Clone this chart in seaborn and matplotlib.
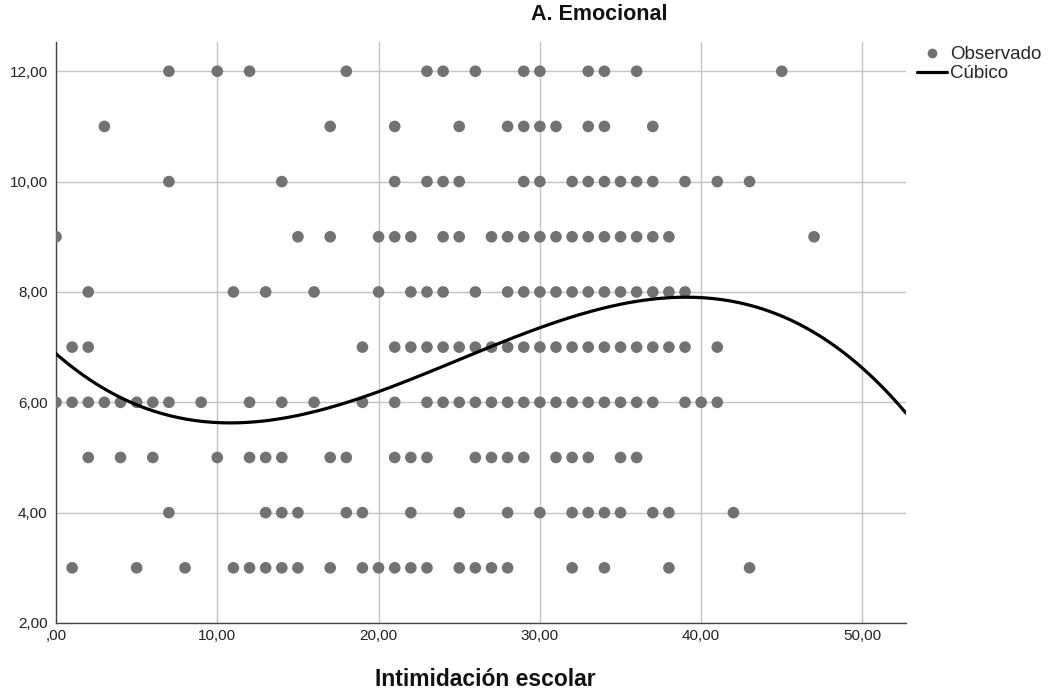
import numpy as np
import pandas as pd
import matplotlib
matplotlib.use("Agg")
import matplotlib.pyplot as plt
import seaborn as sns
from matplotlib.ticker import FuncFormatter
from matplotlib.lines import Line2D

# Observed points: x values (Intimidación escolar) per y level (A. Emocional)
x_at_12 = [7, 10, 12, 18, 23, 24, 26, 29, 30, 33, 34, 36, 45]
x_at_11 = [3, 17, 21, 25, 28, 29, 30, 31, 33, 34, 37]
x_at_10 = [7, 14, 21, 23, 24, 25, 29, 30, 32, 33, 34, 35, 36, 37, 39, 41, 43]
x_at_9 = [0, 15, 17, 20, 21, 22, 24, 25, 27, 28, 29, 30, 31, 32, 33, 34, 35, 36, 37, 38, 47]
x_at_8 = [2, 11, 13, 16, 20, 22, 23, 24, 26, 28, 29, 30, 31, 32, 33, 34, 35, 36, 37, 38, 39]
x_at_7 = [1, 2, 19, 21, 22, 23, 24, 25, 26, 27, 28, 29, 30, 31, 32, 33, 34, 35, 36, 37, 38, 39, 41]
x_at_6 = [0, 1, 2, 3, 4, 5, 6, 7, 9, 12, 14, 16, 19, 21, 23, 24, 25, 26, 27, 28, 29, 30,
          31, 32, 33, 34, 35, 36, 37, 39, 40, 41]
x_at_5 = [2, 4, 6, 10, 12, 13, 14, 17, 18, 21, 22, 23, 26, 27, 28, 29, 31, 32, 33, 35, 36]
x_at_4 = [7, 13, 14, 15, 18, 19, 22, 25, 28, 30, 32, 33, 34, 35, 37, 38, 42]
x_at_3 = [1, 5, 8, 11, 12, 13, 14, 15, 17, 19, 20, 21, 22, 23, 25, 26, 27, 28, 32, 34, 38, 43]

levels = {12: x_at_12, 11: x_at_11, 10: x_at_10, 9: x_at_9, 8: x_at_8,
          7: x_at_7, 6: x_at_6, 5: x_at_5, 4: x_at_4, 3: x_at_3}

# Cubic fit curve: points
curve_x = [0.0, 10.8, 20.0, 30.0, 39.0, 52.7]
curve_y = [6.88, 5.62, 6.22, 7.31, 7.93, 5.80]

x_ticks = [0, 10, 20, 30, 40, 50]
y_ticks = [2, 4, 6, 8, 10, 12]

rows = []
for yv, xs in levels.items():
    for xv in xs:
        rows.append((xv, yv))
df = pd.DataFrame(rows, columns=["x", "y"])

coef = np.polyfit(curve_x, curve_y, 3)
xs_line = np.linspace(0, 52.7, 300)
curve_df = pd.DataFrame({"x": xs_line, "y": np.polyval(coef, xs_line)})

sns.set_style("white")
plt.rcParams["font.family"] = ["Liberation Sans", "DejaVu Sans"]

fig = plt.figure(figsize=(10.58, 6.91), dpi=100)
ax = fig.add_axes([56 / 1058, 1 - 623 / 691, (906 - 56) / 1058, (623 - 42) / 691])

pt_color = "#727272"
sns.scatterplot(data=df, x="x", y="y", ax=ax, color=pt_color, s=70,
                edgecolor="none", zorder=3, legend=False)
sns.lineplot(data=curve_df, x="x", y="y", ax=ax, color="black", linewidth=2.3,
             zorder=4, legend=False)

ax.set_xlim(0, 52.7)
ax.set_ylim(2, 12.53)
ax.set_xticks(x_ticks)
ax.set_yticks(y_ticks)
ax.xaxis.set_major_formatter(FuncFormatter(lambda v, p: ",00" if v == 0 else f"{int(v)},00"))
ax.yaxis.set_major_formatter(FuncFormatter(lambda v, p: f"{int(v)},00"))
ax.grid(True, color="#c4c4c4", linewidth=1.0)
ax.set_axisbelow(True)
for s in ["top", "right"]:
    ax.spines[s].set_visible(False)
for s in ["left", "bottom"]:
    ax.spines[s].set_color("#444444")
    ax.spines[s].set_linewidth(1.0)
ax.tick_params(axis="both", length=0, labelsize=11, colors="#222222")
ax.tick_params(axis="y", pad=6)
ax.tick_params(axis="x", pad=4)
ax.set_xlabel("")
ax.set_ylabel("")

fig.text(599 / 1058, 1 - 15 / 691, "A. Emocional", ha="center", va="center",
         fontsize=15.5, fontweight="bold", color="#111111")
fig.text(485 / 1058, 1 - 680 / 691, "Intimidación escolar", ha="center", va="center",
         fontsize=16.5, fontweight="bold", color="#111111")

handles = [
    Line2D([0], [0], marker="o", color="none", markerfacecolor=pt_color,
           markeredgecolor="none", markersize=7),
    Line2D([0], [0], color="black", linewidth=2.3),
]
fig.legend(handles, ["Observado", "Cúbico"], loc="upper left",
           bbox_to_anchor=(917 / 1058, 1 - 46 / 691), frameon=False,
           fontsize=13.5, handlelength=1.6, handletextpad=0.15, labelspacing=0.1,
           borderaxespad=0, borderpad=0)

fig.savefig("out.png", dpi=100)
